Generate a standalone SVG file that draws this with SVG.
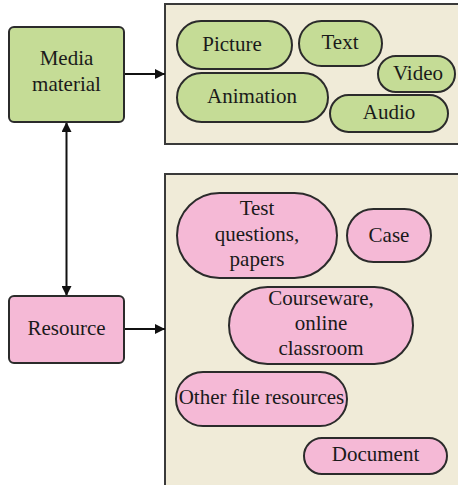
<svg xmlns="http://www.w3.org/2000/svg" width="458" height="485" viewBox="0 0 458 485">
<defs>
<style>
.cont{fill:#f0ebd8;stroke:#3a3a3a;stroke-width:2}
.g{fill:#c5dc96;stroke:#2b2b2b;stroke-width:2}
.p{fill:#f5b9d6;stroke:#2b2b2b;stroke-width:2}
text{font-family:"Liberation Serif","Times New Roman",serif;font-size:21px;fill:#1a1a1a;text-anchor:middle}
.c{stroke:#111;stroke-width:2;fill:none}
</style>
<marker id="ah" viewBox="0 0 10 10" refX="10" refY="5" markerWidth="5" markerHeight="5" orient="auto-start-reverse" markerUnits="strokeWidth">
<path d="M0,0 L10,5 L0,10 z" fill="#111"/>
</marker>
</defs>
<rect class="cont" x="165" y="4" width="300" height="140"/>
<rect class="cont" x="165" y="174" width="300" height="320"/>
<g id="connectors">
<line class="c" x1="124" y1="74" x2="165" y2="74" marker-end="url(#ah)"/>
<line class="c" x1="124" y1="329" x2="165" y2="329" marker-end="url(#ah)"/>
<line class="c" x1="66.5" y1="122" x2="66.5" y2="296" marker-start="url(#ah)" marker-end="url(#ah)"/>
</g>
<g id="media">
<rect class="g" x="9" y="27" width="115" height="95" rx="5"/>
<text x="66.5" y="65">Media</text>
<text x="66.5" y="91">material</text>
</g>
<g id="resource">
<rect class="p" x="9" y="296" width="115" height="67" rx="5"/>
<text x="66.5" y="335">Resource</text>
</g>
<g id="picture">
<rect class="g" x="177" y="21" width="115" height="48" rx="24"/>
<text x="232" y="51">Picture</text>
</g>
<g id="text">
<rect class="g" x="299" y="21" width="83" height="45" rx="22.5"/>
<text x="340" y="49">Text</text>
</g>
<g id="video">
<rect class="g" x="378" y="56" width="77" height="36" rx="18"/>
<text x="418" y="80">Video</text>
</g>
<g id="animation">
<rect class="g" x="177" y="73" width="151" height="49" rx="24.5"/>
<text x="252" y="103">Animation</text>
</g>
<g id="audio">
<rect class="g" x="330" y="95" width="118" height="37" rx="18.5"/>
<text x="389" y="119">Audio</text>
</g>
<g id="test">
<rect class="p" x="177" y="193" width="160" height="85" rx="42.5"/>
<text x="257" y="215">Test</text>
<text x="257" y="241">questions,</text>
<text x="257" y="266">papers</text>
</g>
<g id="case">
<rect class="p" x="347" y="209" width="84" height="53" rx="26.5"/>
<text x="389" y="242">Case</text>
</g>
<g id="courseware">
<rect class="p" x="229" y="287" width="184" height="77" rx="38.5"/>
<text x="321" y="305">Courseware,</text>
<text x="321" y="330">online</text>
<text x="321" y="355">classroom</text>
</g>
<g id="other">
<rect class="p" x="176" y="372" width="171" height="54" rx="27"/>
<text x="261.5" y="404">Other file resources</text>
</g>
<g id="document">
<rect class="p" x="304" y="438" width="143" height="36" rx="18"/>
<text x="375.5" y="461">Document</text>
</g>
</svg>
